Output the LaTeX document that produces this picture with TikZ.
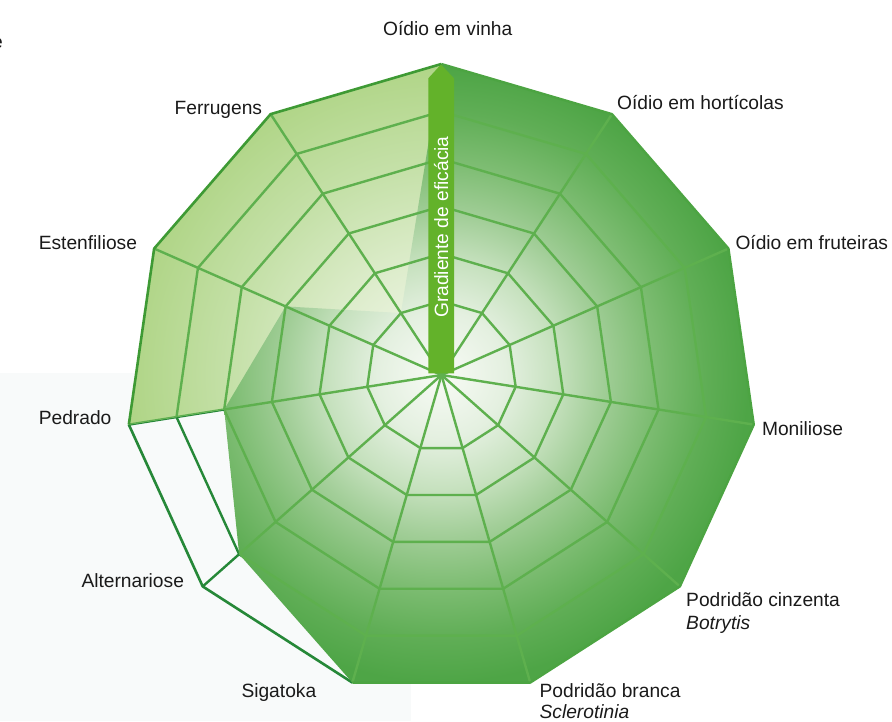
\documentclass[tikz,border=0pt]{standalone}
\usepackage{fontspec}
\setmainfont{Liberation Sans}
\usetikzlibrary{calc}
\definecolor{bgtint}{RGB}{248,250,250}
\definecolor{gridmid}{RGB}{94,176,78}
\definecolor{griddark}{RGB}{38,136,56}
\definecolor{rimdark}{RGB}{62,154,52}
\definecolor{rimright}{RGB}{76,164,66}
\definecolor{barc}{RGB}{99,178,42}
\definecolor{txt}{RGB}{26,26,26}
\definecolor{d0}{RGB}{248,251,246}
\definecolor{d1}{RGB}{228,240,224}
\definecolor{d2}{RGB}{198,225,190}
\definecolor{d3}{RGB}{162,206,152}
\definecolor{d4}{RGB}{126,189,115}
\definecolor{d5}{RGB}{96,174,86}
\definecolor{d6}{RGB}{78,165,70}
\definecolor{d7}{RGB}{76,162,66}
\definecolor{p0}{RGB}{246,250,240}
\definecolor{p1}{RGB}{224,238,208}
\definecolor{p2}{RGB}{198,225,170}
\definecolor{p3}{RGB}{174,212,132}
\pgfdeclareradialshading{darkshade}{\pgfpoint{0bp}{0bp}}{color(0bp)=(d0); color(5bp)=(d1); color(9bp)=(d2); color(12.5bp)=(d3); color(16.5bp)=(d4); color(20.5bp)=(d5); color(24bp)=(d6); color(50bp)=(d7)}
\pgfdeclareradialshading{paleshade}{\pgfpoint{0bp}{0bp}}{color(0bp)=(p0); color(8bp)=(p1); color(16bp)=(p2); color(25bp)=(p3); color(50bp)=(p3)}
\newcommand\drawmygrid[1]{%
  \foreach \t in {0.2375,0.39,0.5425,0.695,0.8475}{%
    \draw[gridline,#1] ($(A)!\t!(V0)$) \foreach \k in {1,...,10}{ -- ($(A)!\t!(V\k)$)} -- cycle;}
  \foreach \k in {0,...,10}{\draw[gridline,#1] (A) -- (V\k);}
}
\begin{document}
\begin{tikzpicture}[x=1pt,y=-1pt,
  gridline/.style={line width=2.4pt,line join=round},
  lbl/.style={font=\fontsize{19.2}{23}\selectfont,text=txt,inner sep=0pt,anchor=base west},
  lbli/.style={lbl,font=\fontsize{19.2}{23}\selectfont\itshape}]
\useasboundingbox (0,0) rectangle (892,721);
\fill[bgtint] (0,372.7) rectangle (410.7,721);
\coordinate (A) at (441.5,375);
\foreach \k in {0,...,10}{\coordinate (V\k) at ({441.3+315.7*sin(\k*360/11)},{379.7-315.7*cos(\k*360/11)});}
% grid in dark green (visible only in the empty zone)
\drawmygrid{griddark}
\draw[gridline,griddark,line width=2.6pt] (V6) -- (V7) -- (V8);
% pale series
\begin{scope}
  \clip (V0) -- (A) -- (V8) -- (V9) -- (V10) -- cycle;
  \shade[shading=paleshade] ($(A)+(-320pt,-320pt)$) rectangle ($(A)+(320pt,320pt)$);
  \drawmygrid{gridmid}
\end{scope}
% dark series
\begin{scope}
  \clip (V0) -- (V1) -- (V2) -- (V3) -- (V4) -- (V5) -- (V6)
    -- ($(A)!0.8475!(V7)$) -- ($(A)!0.695!(V8)$) -- ($(A)!0.5425!(V9)$) -- ($(A)!0.2375!(V10)$) -- cycle;
  \shade[shading=darkshade] ($(A)+(-320pt,-320pt)$) rectangle ($(A)+(320pt,320pt)$);
  \drawmygrid{gridmid}
\end{scope}
% outer rim
\draw[line width=2.4pt,rimright,line join=round] (V0) -- (V1) -- (V2) -- (V3) -- (V4) -- (V5) -- (V6);
\draw[line width=2.6pt,rimdark,line join=round] (V8) -- (V9) -- (V10) -- (V0);
% gradient arrow bar
\fill[barc] (428.3,373.3) -- (454,373.3) -- (454,78.3) -- (441,64.5) -- (428.3,78.3) -- cycle;
\node[lbl,text=white,rotate=90] (bartext) at (448.2,318) {Gradiente de eficácia};
% labels
\node[lbl] (frag) at (-8.2,48.3) {e};
\node[lbl] (l0) at (383,35) {Oídio em vinha};
\node[lbl] (l1) at (617,109) {Oídio em hortícolas};
\node[lbl] (l2) at (735.3,249.3) {Oídio em fruteiras};
\node[lbl] (l3) at (761.8,435) {Moniliose};
\node[lbl] (l4) at (686,606.7) {Podridão cinzenta};
\node[lbli] (l4b) at (686,629) {Botrytis};
\node[lbl] (l5) at (539.4,697.3) {Podridão branca};
\node[lbli] (l5b) at (539.4,718.5) {Sclerotinia};
\node[lbl] (l6) at (241.3,697.3) {Sigatoka};
\node[lbl] (l7) at (81.3,587.3) {Alternariose};
\node[lbl] (l8) at (38.6,424) {Pedrado};
\node[lbl] (l9) at (38.6,249.3) {Estenfiliose};
\node[lbl] (l10) at (174.4,114.3) {Ferrugens};
\end{tikzpicture}
\end{document}
